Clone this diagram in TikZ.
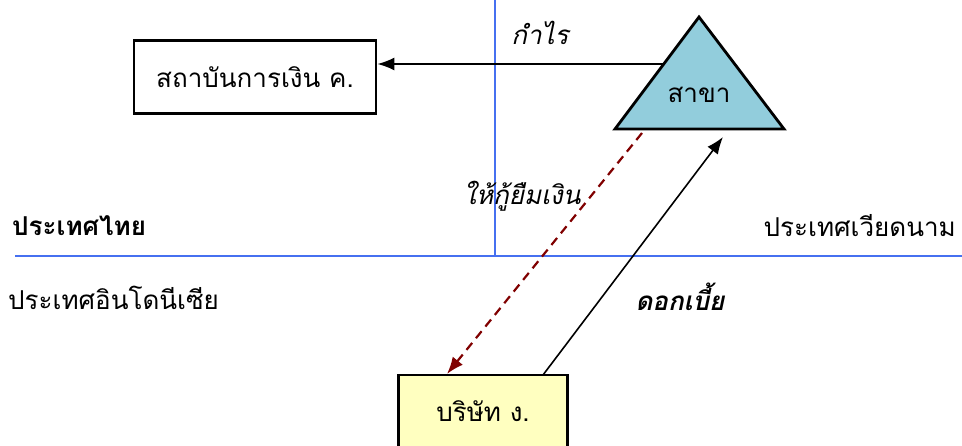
\documentclass[tikz,border=0pt]{standalone}
\usepackage{fontspec}
\newfontfamily\thaifont[Script=Thai]{Loma}
\usetikzlibrary{arrows.meta,positioning}
\definecolor{borderblue}{RGB}{70,112,240}
\definecolor{branchfill}{RGB}{146,205,220}
\definecolor{firmfill}{RGB}{255,255,192}
\definecolor{loanred}{RGB}{128,0,0}

\begin{document}
\begin{tikzpicture}[
    x=1pt, y=-1pt,
    every node/.style={font=\thaifont\fontsize{26}{31}\selectfont},
    block/.style={rectangle, draw=black, line width=2.8pt, inner sep=0pt},
    country/.style={inner sep=0pt},
    tag/.style={inner sep=0pt, font=\thaifont\itshape\fontsize{26}{31}\selectfont},
    border/.style={draw=borderblue, line width=2pt},
    arrow/.style={-{Latex[length=17pt,width=13pt]}, line width=1.6pt, black},
    loan/.style={-{Latex[length=17pt,width=13pt]}, line width=2.2pt, loanred, dash pattern=on 9pt off 6pt},
]
\useasboundingbox (0,0) rectangle (962,446);
% borders between countries
\draw[border] (15,256) -- (962,256);
\draw[border] (495,0) -- (495,256);
\node[country, anchor=west, font=\thaifont\bfseries\fontsize{26}{31}\selectfont] (thai) at (12,226) {ประเทศไทย};
\node[country, anchor=east] (vietnam) at (956,226) {ประเทศเวียดนาม};
\node[country, anchor=west] (indo) at (8,298) {ประเทศอินโดนีเซีย};
% institutions
\node[block, minimum width=242pt, minimum height=73pt] (inst) at (255,77) {สถาบันการเงิน ค.};
\draw[line width=2.8pt, fill=branchfill] (699,17) -- (784,129) -- (615,129) -- cycle;
\node (branch) at (699,95) {สาขา};
\node[block, fill=firmfill, minimum width=169pt, minimum height=90pt] (firm) at (483,420) {};
\node (firmtext) at (483,411) {บริษัท ง.};
\coordinate (profitS) at (663,64);
\coordinate (loanS) at (642,133);
\coordinate (loanE) at (447,374);
\coordinate (intS) at (543,375);
\coordinate (intE) at (723,137);
% flows
\draw[arrow] (profitS) -- (profitS -| inst.east);
\node[tag] (profit) at (540,33) {กำไร};
\draw[loan] (loanS) -- (loanE);
\node[tag] (lend) at (522,196) {ให้กู้ยืมเงิน};
\draw[arrow] (intS) -- (intE);
\node[tag, font=\thaifont\bfseries\itshape\fontsize{26}{31}\selectfont] (interest) at (680,297) {ดอกเบี้ย};
\end{tikzpicture}
\end{document}
